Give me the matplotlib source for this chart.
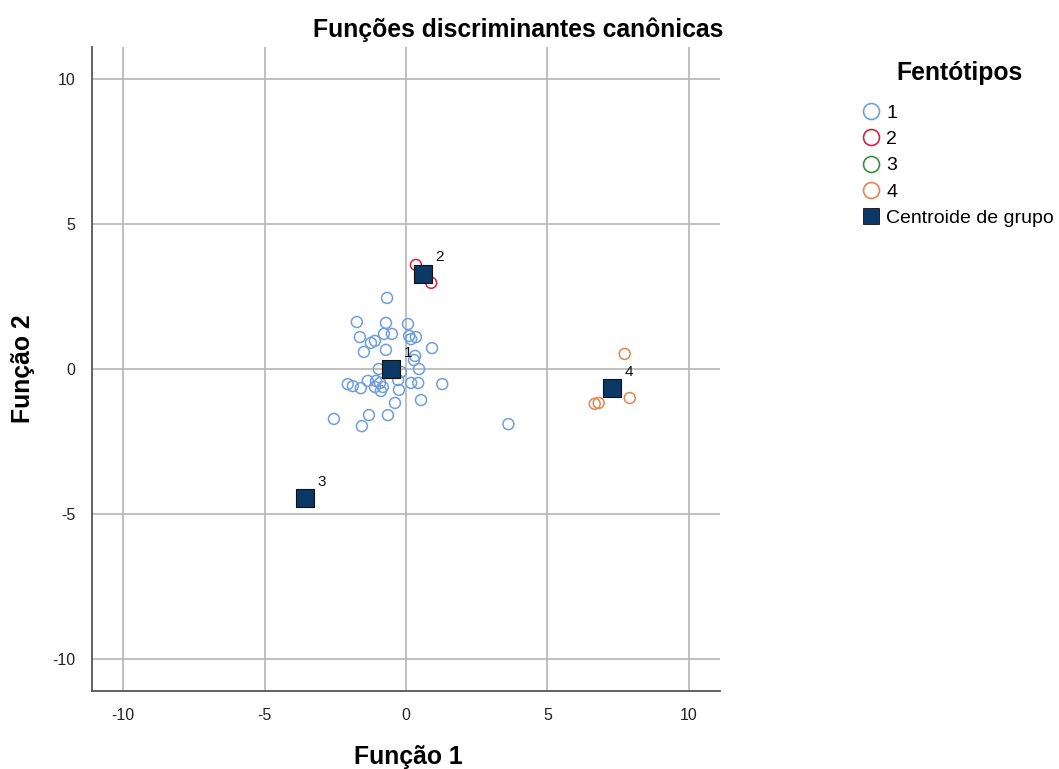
import matplotlib.pyplot as plt
from matplotlib.lines import Line2D

plt.rcParams['font.family'] = ['Liberation Sans', 'DejaVu Sans']
plt.rcParams['axes.unicode_minus'] = False

# escores discriminantes por grupo (Função 1, Função 2)
g1_x = [-0.67, -1.74, -0.71, 0.07, -1.63, -0.78, -0.50, 0.11, 0.35, 0.18,
        -1.10, -1.24, -1.49, -0.71, 0.92, 0.32, 0.28, -0.96, 0.46, -0.18,
        -2.06, -1.88, -1.60, -1.35, -1.06, -0.92, -1.10, -0.82, -0.89, -0.28,
        0.18, 0.43, 1.28, -0.25, -0.39, 0.53, -0.64, -1.31, -2.55, -1.56,
        3.62]
g1_y = [2.45, 1.62, 1.59, 1.55, 1.10, 1.21, 1.21, 1.14, 1.10, 1.03,
        0.97, 0.90, 0.59, 0.66, 0.72, 0.45, 0.31, 0.00, 0.00, -0.10,
        -0.52, -0.59, -0.66, -0.41, -0.41, -0.48, -0.62, -0.62, -0.76, -0.38,
        -0.48, -0.48, -0.52, -0.72, -1.17, -1.07, -1.59, -1.59, -1.72, -1.97,
        -1.90]
g2_x = [0.35, 0.89]
g2_y = [3.59, 2.97]
g4_x = [7.73, 7.91, 6.81, 6.67]
g4_y = [0.52, -1.00, -1.17, -1.20]

centroide_x = [-0.53, 0.60, -3.58, 7.27]
centroide_y = [0.00, 3.28, -4.45, -0.66]
grupos = ['1', '2', '3', '4']

cores = {'1': '#6f9fdc', '2': '#cf2342', '3': '#3d8c45', '4': '#e8834e'}
cor_centroide = '#0c3866'

fig = plt.figure(figsize=(10.59, 7.69), dpi=100)
ax = fig.add_axes([0.0869, 0.1014, 0.593, 0.8375])

ax.scatter(g1_x, g1_y, s=62, facecolors='none', edgecolors=cores['1'], linewidths=1.1, zorder=3)
ax.scatter(g2_x, g2_y, s=62, facecolors='none', edgecolors=cores['2'], linewidths=1.1, zorder=3)
ax.scatter(g4_x, g4_y, s=62, facecolors='none', edgecolors=cores['4'], linewidths=1.1, zorder=3)
ax.scatter(centroide_x, centroide_y, s=170, marker='s', color=cor_centroide,
           edgecolors='#111111', linewidths=0.8, zorder=4)
for cx, cy, g in zip(centroide_x, centroide_y, grupos):
    ax.annotate(g, (cx, cy), xytext=(9, 9), textcoords='offset points',
                fontsize=11, color='#111111', zorder=5)

ax.set_xlim(-11.1, 11.1)
ax.set_ylim(-11.1, 11.1)
ax.set_xticks([-10, -5, 0, 5, 10])
ax.set_yticks([-10, -5, 0, 5, 10])
ax.grid(True, color='#b5b5b5', linewidth=1.2)
ax.set_axisbelow(True)
ax.tick_params(length=0, labelsize=11.5, colors='#222222', pad=12)
for s in ['top', 'right']:
    ax.spines[s].set_visible(False)
for s in ['left', 'bottom']:
    ax.spines[s].set_color('#555555')
    ax.spines[s].set_linewidth(1.3)

fig.text(518 / 1059, 1 - 30 / 769, 'Funções discriminantes canônicas',
         ha='center', va='center', fontsize=17.8, fontweight='bold')
fig.text(408 / 1059, 1 - 757 / 769, 'Função 1', ha='center', va='center',
         fontsize=17.8, fontweight='bold')
fig.text(23 / 1059, 1 - 369 / 769, 'Função 2', ha='center', va='center',
         rotation=90, fontsize=17.8, fontweight='bold')

# legenda: título à parte para dar mais espaço acima das entradas
fig.text(960 / 1059, 1 - 73 / 769, 'Fentótipos', ha='center', va='center',
         fontsize=17.8, fontweight='bold')
handles = [Line2D([], [], marker='o', linestyle='none', markersize=11.5,
                  markerfacecolor='none', markeredgecolor=cores[g], markeredgewidth=1.2)
           for g in grupos]
handles.append(Line2D([], [], marker='s', linestyle='none', markersize=11,
                      color=cor_centroide, markeredgecolor='#111111', markeredgewidth=0.6))
labels = grupos + ['Centroide de grupo']
leg = fig.legend(handles, labels, loc='upper left',
                 bbox_to_anchor=(862 / 1059, 1 - 104 / 769), frameon=False,
                 fontsize=14, handlelength=0.9, handletextpad=0.35,
                 labelspacing=0.45, borderaxespad=0, borderpad=0)

fig.savefig('out.png', dpi=100)
